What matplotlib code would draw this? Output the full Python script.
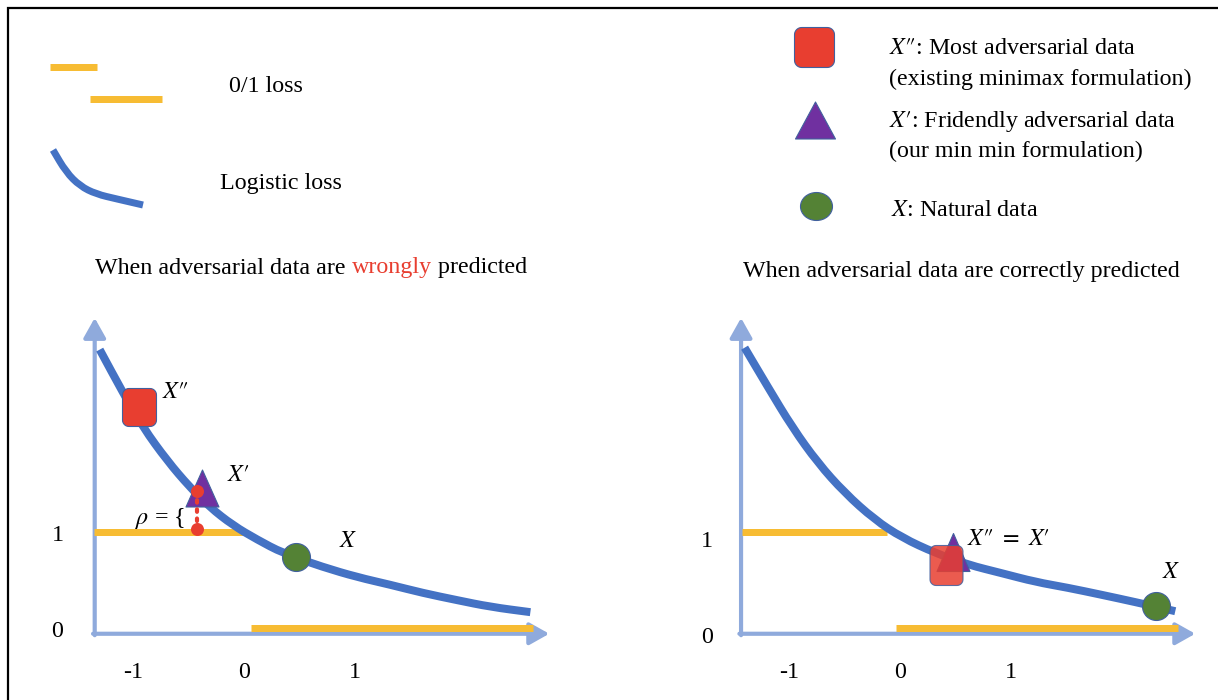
import numpy as np
import matplotlib
matplotlib.use("Agg")
import matplotlib.pyplot as plt
from matplotlib.path import Path
from matplotlib.patches import PathPatch

plt.rcParams['font.family'] = ['Liberation Serif', 'DejaVu Serif']
plt.rcParams['mathtext.fontset'] = 'stix'

# ---------------- data ----------------
left_curve_x = [-1.30, -1.09, -0.91, -0.69, -0.49, -0.31, -0.10, 0.12, 0.35, 0.71, 1.02, 1.32,
                1.61, 1.92, 2.22, 2.58]
left_curve_y = [2.90, 2.45, 2.09, 1.74, 1.47, 1.26, 1.07, 0.92, 0.78, 0.635, 0.53, 0.45,
                0.365, 0.29, 0.22, 0.165]
right_curve_x = [-1.40, -1.19, -0.97, -0.74, -0.50, -0.23, 0.02, 0.32, 0.61, 0.92, 1.22, 1.51,
                 1.82, 2.12, 2.48]
right_curve_y = [2.92, 2.51, 2.09, 1.72, 1.41, 1.13, 0.94, 0.78, 0.66, 0.57, 0.48, 0.42,
                 0.345, 0.27, 0.175]

# 0/1 loss segments: start x, end x, loss value
left_zo_start = [-1.35, 0.06]
left_zo_end = [-0.01, 2.60]
right_zo_start = [-1.42, -0.04]
right_zo_end = [-0.12, 2.50]
zo_values = [1, 0]

# points (x, loss)
left_adv_most = (-0.95, 2.30)      # X''
left_adv_friendly = (-0.38, 1.46)  # X'
left_natural = (0.47, 0.74)        # X
left_rho_dots_x = [-0.42, -0.42]
left_rho_dots_y = [1.43, 1.03]
right_adv_most = (0.41, 0.66)
right_adv_friendly = (0.48, 0.79)
right_natural = (2.31, 0.23)

xtick_values = [-1, 0, 1]
xtick_labels = ['-1', '0', '1']
ytick_values = [0, 1]
ytick_labels = ['0', '1']

left_title = ["When adversarial data are ", "wrongly", " predicted"]
right_title = "When adversarial data are correctly predicted"

# ---------------- style ----------------
W, H = 1218, 700
BLUE = '#4472C4'
ORANGE = '#F7BC33'
AXIS = '#8FAADC'
RED = '#E83E30'
PURPLE = '#7030A0'
GREEN = '#548235'
EDGE = '#41609E'
FS = 17.3

fig = plt.figure(figsize=(W / 100, H / 100), dpi=100)

# overlay in pixel coordinates
ov = fig.add_axes([0, 0, 1, 1])
ov.set_xlim(0, W)
ov.set_ylim(H, 0)
ov.axis('off')
ov.set_zorder(0)


def rounded_rect(w, h, r, n=8):
    pts = []
    corners = [(w / 2 - r, h / 2 - r, 0), (-w / 2 + r, h / 2 - r, 90),
               (-w / 2 + r, -h / 2 + r, 180), (w / 2 - r, -h / 2 + r, 270)]
    for cx, cy, a0 in corners:
        for t in np.linspace(np.radians(a0), np.radians(a0 + 90), n):
            pts.append((cx + r * np.cos(t), cy + r * np.sin(t)))
    pts.append(pts[0])
    return Path(pts, closed=True)


def tri(w, h):
    return Path([(-w / 2, -h / 2), (w / 2, -h / 2), (0, h / 2), (-w / 2, -h / 2)], closed=True)


def smooth_path(xs, ys):
    """Quadratic-Bezier path using the read points as control points."""
    p = list(zip(xs, ys))
    verts = [p[0]]
    codes = [Path.MOVETO]
    mid = lambda a, b: ((a[0] + b[0]) / 2, (a[1] + b[1]) / 2)
    verts.append(mid(p[0], p[1]))
    codes.append(Path.LINETO)
    for i in range(1, len(p) - 1):
        verts += [p[i], mid(p[i], p[i + 1])]
        codes += [Path.CURVE3, Path.CURVE3]
    verts.append(p[-1])
    codes.append(Path.LINETO)
    return Path(verts, codes)


def draw_curve(ax, xs, ys, lw, zorder):
    patch = PathPatch(smooth_path(xs, ys), facecolor='none', edgecolor=BLUE, lw=lw,
                      capstyle='butt', joinstyle='round', zorder=zorder)
    ax.add_patch(patch)


PX2PT = 0.72
P2 = r"\prime\!\prime"
P1 = r"\prime"

# frame
ov.plot([8, 8, W + 5], [H + 5, 8, 8], color='black', lw=1.6, solid_joinstyle='miter')

# legend (left)
ov.plot([50, 97], [67, 67], color=ORANGE, lw=7 * PX2PT, solid_capstyle='butt')
ov.plot([90, 162], [99, 99], color=ORANGE, lw=7 * PX2PT, solid_capstyle='butt')
ov.text(229, 87, "0/1 loss", fontsize=FS, va='center', ha='left')
draw_curve(ov, [53, 66, 80, 96, 117, 143], [150, 172, 186, 194, 199, 205], 7 * PX2PT, 2)
ov.text(220, 184, "Logistic loss", fontsize=FS, va='center', ha='left')

# legend (right)
sq = rounded_rect(1.0, 1.0, 0.18)
ov.plot([814], [47], marker=sq, markersize=40 * PX2PT, color=RED, mec=EDGE, mew=0.8, ls='none')
ov.plot([815], [120], marker=tri(1.0, 37 / 40), markersize=40 * PX2PT, color=PURPLE, mec=EDGE, mew=0.8, ls='none')
ov.plot([816], [206], marker=Path.unit_circle().transformed(matplotlib.transforms.Affine2D().scale(1, 28 / 32)),
        markersize=32 * PX2PT, color=GREEN, mec=EDGE, mew=0.8, ls='none')
ov.text(889, 49, r"$X%s$: Most adversarial data" % P2, fontsize=FS, va='center', ha='left')
ov.text(889, 79, "(existing minimax formulation)", fontsize=FS, va='center', ha='left')
ov.text(889, 122, r"$X%s$: Fridendly adversarial data" % P1, fontsize=FS, va='center', ha='left')
ov.text(889, 151, "(our min min formulation)", fontsize=FS, va='center', ha='left')
ov.text(891, 210, r"$X$: Natural data", fontsize=FS, va='center', ha='left')

# titles
t1 = ov.text(95, 268, left_title[0], fontsize=FS, va='center', ha='left')
t2 = ov.annotate(left_title[1], xy=(1, 0), xycoords=t1, va='bottom', ha='left', fontsize=FS, color=RED)
t3 = ov.annotate(left_title[2], xy=(1, 0), xycoords=t2, va='bottom', ha='left', fontsize=FS)
ov.text(961, 271, right_title, fontsize=FS, va='center', ha='center')


def panel(x0, y0, x1, y1, xo, yo, ux, uy):
    ax = fig.add_axes([x0 / W, 1 - y1 / H, (x1 - x0) / W, (y1 - y0) / H])
    ax.set_xlim((x0 - xo) / ux, (x1 - xo) / ux)
    ax.set_ylim((yo - y1) / uy, (yo - y0) / uy)
    ax.axis('off')
    ax.patch.set_alpha(0)
    ax.set_zorder(1)
    return ax


UX, UY = 111.0, 96.0
axL = panel(20, 295, 590, 695, 244, 628, UX, UY)
axR = panel(670, 295, 1218, 695, 900, 628, UX, UY)


def draw_axes(ax, yaxis_x, tip_x, tip_y, base_y, ylab_x, ylab_dy):
    kw = dict(arrowstyle='-|>,head_length=0.8,head_width=0.45', color=AXIS, lw=3,
              shrinkA=0, shrinkB=0, mutation_scale=15)
    ax.annotate('', xy=(tip_x, base_y), xytext=(yaxis_x - 0.015, base_y), arrowprops=kw, zorder=1)
    ax.annotate('', xy=(yaxis_x, tip_y), xytext=(yaxis_x, base_y - 0.015), arrowprops=kw, zorder=1)
    for v, lab in zip(xtick_values, xtick_labels):
        ax.text(v, base_y - 0.4, lab, fontsize=FS, ha='center', va='center')
    for v, lab in zip(ytick_values, ytick_labels):
        ax.text(ylab_x, v + ylab_dy, lab, fontsize=FS, ha='center', va='center')


# left panel
draw_axes(axL, -1.345, 2.75, 3.23, -0.06, -1.68, -0.04)
for s, e, v in zip(left_zo_start, left_zo_end, zo_values):
    axL.plot([s, e], [v, v], color=ORANGE, lw=7 * PX2PT, solid_capstyle='butt', zorder=2)
draw_curve(axL, left_curve_x, left_curve_y, 8 * PX2PT, 3)
axL.plot(*left_adv_most, marker=rounded_rect(34 / 38, 1.0, 0.17), markersize=38 * PX2PT,
         color=RED, mec=EDGE, mew=0.8, zorder=4)
axL.plot(*left_adv_friendly, marker=tri(33 / 37, 1.0), markersize=37 * PX2PT,
         color=PURPLE, mec=EDGE, mew=0.8, zorder=4)
axL.plot(*left_natural, marker='o', markersize=28 * PX2PT, color=GREEN, mec=EDGE, mew=0.8, zorder=4)
axL.plot(left_rho_dots_x, left_rho_dots_y, color=RED, lw=3, ls=(0, (0.6, 1.6)),
         dash_capstyle='round', zorder=5)
axL.plot(left_rho_dots_x, left_rho_dots_y, 'o', color=RED, markersize=13 * PX2PT, mew=0, zorder=5)
axL.text(left_rho_dots_x[0] - 0.11, 1.14, r"$\rho$ = {", fontsize=FS, ha='right', va='center', zorder=5)
axL.text(left_adv_most[0] + 0.21, left_adv_most[1] + 0.15, r"$X%s$" % P2, fontsize=FS, ha='left', va='center')
axL.text(left_adv_friendly[0] + 0.23, left_adv_friendly[1] + 0.13, r"$X%s$" % P1, fontsize=FS, ha='left', va='center')
axL.text(left_natural[0] + 0.39, left_natural[1] + 0.16, r"$X$", fontsize=FS, ha='left', va='center')

# right panel
draw_axes(axR, -1.432, 2.66, 3.23, -0.06, -1.74, -0.1)
for s, e, v in zip(right_zo_start, right_zo_end, zo_values):
    axR.plot([s, e], [v, v], color=ORANGE, lw=7 * PX2PT, solid_capstyle='butt', zorder=2)
draw_curve(axR, right_curve_x, right_curve_y, 8 * PX2PT, 3)
axR.plot(*right_adv_friendly, marker=tri(33 / 38, 1.0), markersize=38 * PX2PT,
         color=PURPLE, mec=EDGE, mew=0.8, zorder=4)
axR.plot(*right_adv_most, marker=rounded_rect(33 / 40, 1.0, 0.15), markersize=40 * PX2PT,
         color=RED, mec=EDGE, mew=0.8, alpha=0.85, zorder=5)
axR.plot(*right_natural, marker='o', markersize=28 * PX2PT, color=GREEN, mec=EDGE, mew=0.8, zorder=5)
axR.text(right_adv_most[0] + 0.19, 0.92, r"$X%s\ =\ X%s$" % (P2, P1), fontsize=FS, ha='left', va='center')
axR.text(right_natural[0] + 0.05, 0.58, r"$X$", fontsize=FS, ha='left', va='center')

fig.savefig("out.png", dpi=100)
